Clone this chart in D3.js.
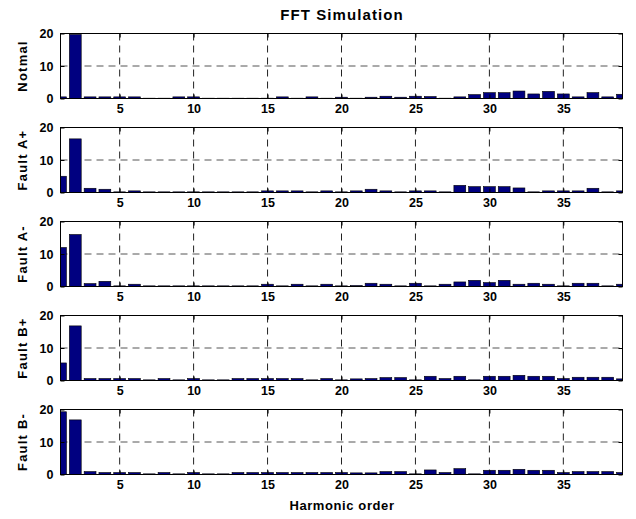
<!DOCTYPE html>
<html>
<head>
<meta charset="utf-8">
<script src="https://cdn.jsdelivr.net/npm/d3@7"></script>
<style>
  body { margin: 0; background: #fff; }
  text { font-family: "Liberation Sans", Arial, sans-serif; font-weight: bold; fill: #000; }
</style>
</head>
<body>
<svg id="chart" width="636" height="519"></svg>
<script>
const harmonics = d3.range(1, 40);
const labels = ["Notmal", "Fault A+", "Fault A-", "Fault B+", "Fault B-"];
const xTicks = [5, 10, 15, 20, 25, 30, 35];
const yTicks = [0, 10, 20];

const normal = [0.5, 19.7, 0.5, 0.5, 0.5, 0.5, 0.1, 0.1, 0.5, 0.5, 0.1, 0.1, 0.1, 0.1, 0.1, 0.5, 0.1, 0.5, 0.1, 0.4,
  0.1, 0.4, 0.7, 0.4, 0.7, 0.6, 0.1, 0.5, 1.2, 1.8, 1.8, 2.3, 1.4, 2.2, 1.4, 0.5, 1.8, 0.5, 1.3];
const faultAp = [5, 16.5, 1.3, 1, 0.2, 0.5, 0.2, 0.2, 0.2, 0.2, 0.2, 0.2, 0.2, 0.2, 0.5, 0.5, 0.5, 0.2, 0.5, 0.2,
  0.5, 1.0, 0.5, 0.2, 0.5, 0.5, 0.2, 2.2, 1.8, 1.8, 1.8, 1.4, 0.2, 0.5, 0.5, 0.5, 1.3, 0.2, 0.5];
const faultAm = [12, 16, 0.9, 1.6, 0.2, 0.7, 0.2, 0.2, 0.2, 0.2, 0.2, 0.2, 0.2, 0.2, 0.7, 0.2, 0.7, 0.2, 0.7, 0.2,
  0.3, 1.0, 0.7, 0.2, 1.0, 0.2, 0.7, 1.4, 1.9, 1.2, 1.9, 0.7, 1.0, 0.7, 0.2, 1.0, 1.0, 0.2, 0.7];
const faultBp = [5.4, 16.8, 0.6, 0.6, 0.6, 0.6, 0.2, 0.6, 0.2, 0.6, 0.2, 0.2, 0.6, 0.6, 0.6, 0.6, 0.6, 0.2, 0.6, 0.2,
  0.5, 0.6, 0.9, 0.9, 0.2, 1.3, 0.6, 1.3, 0.2, 1.3, 1.3, 1.6, 1.3, 1.3, 0.6, 1.0, 1.0, 1.0, 0.5];
const faultBm = [19.3, 16.8, 0.9, 0.6, 0.6, 0.6, 0.2, 0.6, 0.2, 0.6, 0.2, 0.2, 0.6, 0.6, 0.6, 0.6, 0.6, 0.6, 0.6, 0.6,
  0.5, 0.5, 0.9, 0.9, 0.2, 1.4, 0.6, 1.8, 0.2, 1.3, 1.3, 1.6, 1.3, 1.3, 0.6, 0.9, 0.9, 0.9, 0.6];
const series = [normal, faultAp, faultAm, faultBp, faultBm];

const svg = d3.select("#chart");
svg.append("rect").attr("width", 636).attr("height", 519).attr("fill", "#fff");

const left = 60.5, right = 622.5, h = 65;
const x = d3.scaleLinear().domain([1, 39]).range([left, right]);
const barW = x(1.8) - x(1);

svg.append("text").attr("x", 342).attr("y", 20).attr("text-anchor", "middle")
  .style("font-size", "15px").style("letter-spacing", "1.1px").text("FFT Simulation");

series.forEach((vals, i) => {
  const top = 33.5 + i * 94;
  const y = d3.scaleLinear().domain([0, 20]).range([top + h, top]);
  const g = svg.append("g");

  g.append("clipPath").attr("id", "clip" + i)
    .append("rect").attr("x", left).attr("y", top).attr("width", right - left).attr("height", h);

  // grid
  g.selectAll(".vg").data(xTicks).enter().append("line")
    .attr("x1", d => x(d)).attr("x2", d => x(d)).attr("y1", top).attr("y2", top + h)
    .attr("stroke", "#222").attr("stroke-dasharray", "7,5");
  g.append("line").attr("x1", left).attr("x2", right).attr("y1", y(10)).attr("y2", y(10))
    .attr("stroke", "#555").attr("stroke-dasharray", "7,5");

  g.append("g").attr("clip-path", "url(#clip" + i + ")")
    .selectAll("rect").data(vals).enter().append("rect")
    .attr("x", (d, j) => x(harmonics[j]) - barW / 2)
    .attr("y", d => y(d))
    .attr("width", barW)
    .attr("height", d => y(0) - y(d))
    .attr("fill", "#000080")
    .attr("stroke", "#000")
    .attr("stroke-width", 0.6);

  // axes box with inward ticks
  g.append("g").attr("transform", `translate(0,${top + h})`)
    .call(d3.axisBottom(x).tickValues(xTicks).tickSize(-4).tickPadding(6))
    .call(a => a.select(".domain").remove());
  g.append("g").attr("transform", `translate(0,${top})`)
    .call(d3.axisTop(x).tickValues(xTicks).tickSize(-4).tickFormat(""))
    .call(a => a.select(".domain").remove());
  g.append("g").attr("transform", `translate(${left},0)`)
    .call(d3.axisLeft(y).tickValues(yTicks).tickSize(-4).tickPadding(7))
    .call(a => a.select(".domain").remove());
  g.append("g").attr("transform", `translate(${right},0)`)
    .call(d3.axisRight(y).tickValues(yTicks).tickSize(-4).tickFormat(""))
    .call(a => a.select(".domain").remove());
  g.selectAll(".tick text").style("font-size", "12.5px").style("font-family", null);
  g.selectAll(".tick line").attr("stroke", "#000");

  g.append("rect").attr("x", left).attr("y", top).attr("width", right - left).attr("height", h)
    .attr("fill", "none").attr("stroke", "#000").attr("stroke-width", 1);

  g.append("text")
    .attr("transform", `translate(22,${top + h / 2}) rotate(-90)`)
    .attr("text-anchor", "middle").attr("dy", "0.35em")
    .style("font-size", "13px").style("letter-spacing", "1.2px")
    .text(labels[i]);
});

svg.append("text").attr("x", 342).attr("y", 510).attr("text-anchor", "middle")
  .style("font-size", "13px").style("letter-spacing", "0.6px").text("Harmonic order");
</script>
</body>
</html>
